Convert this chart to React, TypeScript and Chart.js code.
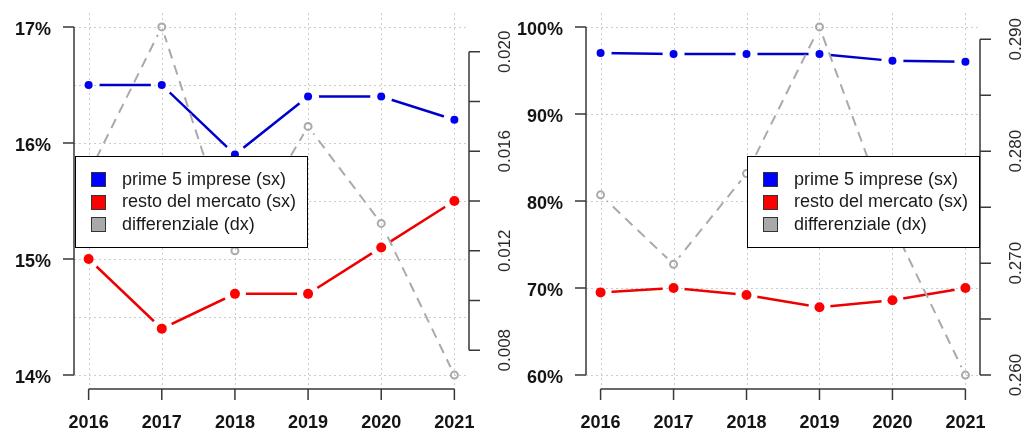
import React, { useEffect, useRef } from 'react';
import { Chart, registerables } from 'chart.js';

Chart.register(...registerables);

// ---- data ----
const years = [2016, 2017, 2018, 2019, 2020, 2021];

// left panel
const top5A = [16.5, 16.5, 15.9, 16.4, 16.4, 16.2];
const restA = [15.0, 14.4, 14.7, 14.7, 15.1, 15.5];
const diffA = [0.0151, 0.021, 0.012, 0.017, 0.0131, 0.007];
const leftTicksA = [14, 15, 16, 17];
const leftGridA = [14, 14.5, 15, 15.5, 16, 16.5, 17];
const rightTicksA = [0.008, 0.01, 0.012, 0.014, 0.016, 0.018, 0.02];
const rightLabelsA = ['0.008', '', '0.012', '', '0.016', '', '0.020'];

// right panel
const top5B = [97.0, 96.9, 96.9, 96.9, 96.1, 96.0];
const restB = [69.5, 70.0, 69.2, 67.8, 68.6, 70.0];
const diffB = [0.2761, 0.2699, 0.278, 0.2911, 0.2734, 0.26];
const leftTicksB = [60, 70, 80, 90, 100];
const leftGridB = [60, 70, 80, 90, 100];
const rightTicksB = [0.26, 0.265, 0.27, 0.275, 0.28, 0.285, 0.29];
const rightLabelsB = ['0.260', '', '0.270', '', '0.280', '', '0.290'];

const legendLabels = ['prime 5 imprese (sx)', 'resto del mercato (sx)', 'differenziale (dx)'];
const legendColors = ['#0000ff', '#ff0000', '#a9a9a9'];

const FONT = '"Liberation Sans", Arial, Helvetica, sans-serif';

// extend a range by 4% on each side
function padRange(lo: number, hi: number): [number, number] {
  const d = (hi - lo) * 0.04;
  return [lo - d, hi + d];
}

// grid, axes, legend box, and lines that stop short of their points
const framePlugin = {
  id: 'frame',
  beforeDatasetDraw(chart: any, args: any) {
    const ds: any = chart.data.datasets[args.index];
    if (!ds || !ds.gap) return;
    const ctx = chart.ctx;
    ctx.save();
    ctx.beginPath();
    ctx.rect(0, 0, chart.width, chart.height);
    for (const el of args.meta.data) {
      ctx.moveTo(el.x + ds.gap, el.y);
      ctx.arc(el.x, el.y, ds.gap, 0, Math.PI * 2, true);
    }
    ctx.clip('evenodd');
  },
  afterDatasetDraw(chart: any, args: any) {
    const ds: any = chart.data.datasets[args.index];
    if (!ds || !ds.gap) return;
    chart.ctx.restore();
  },
  beforeDatasetsDraw(chart: any, _args: any, opts: any) {
    const { ctx, chartArea: a, scales } = chart;
    ctx.save();
    ctx.strokeStyle = '#cccccc';
    ctx.lineWidth = 1;
    ctx.setLineDash([2, 3]);
    for (const v of opts.leftGrid) {
      const py = Math.round(scales.y.getPixelForValue(v)) + 0.5;
      ctx.beginPath();
      ctx.moveTo(a.left, py);
      ctx.lineTo(a.right, py);
      ctx.stroke();
    }
    for (const v of years) {
      const px = Math.round(scales.x.getPixelForValue(v)) + 0.5;
      ctx.beginPath();
      ctx.moveTo(px, a.top);
      ctx.lineTo(px, a.bottom);
      ctx.stroke();
    }
    ctx.setLineDash([]);
    ctx.restore();
  },
  afterDraw(chart: any, _args: any, opts: any) {
    const { ctx, chartArea: a, scales } = chart;
    const tick = 11;
    ctx.save();
    ctx.setLineDash([]);
    ctx.strokeStyle = '#383838';
    ctx.lineWidth = 1.5;
    ctx.fillStyle = '#141414';

    // x axis
    const xs = years.map((v) => scales.x.getPixelForValue(v));
    const yb = a.bottom;
    ctx.beginPath();
    ctx.moveTo(xs[0], yb);
    ctx.lineTo(xs[xs.length - 1], yb);
    for (const px of xs) {
      ctx.moveTo(px, yb);
      ctx.lineTo(px, yb + tick);
    }
    ctx.stroke();
    ctx.font = `bold 18px ${FONT}`;
    ctx.textAlign = 'center';
    ctx.textBaseline = 'alphabetic';
    years.forEach((v, i) => ctx.fillText(String(v), xs[i], yb + 39));

    // left axis
    const ly = opts.leftTicks.map((v: number) => scales.y.getPixelForValue(v));
    ctx.beginPath();
    ctx.moveTo(a.left, ly[0]);
    ctx.lineTo(a.left, ly[ly.length - 1]);
    for (const py of ly) {
      ctx.moveTo(a.left, py);
      ctx.lineTo(a.left - tick, py);
    }
    ctx.stroke();
    ctx.textAlign = 'right';
    opts.leftTicks.forEach((v: number, i: number) => ctx.fillText(`${v}%`, a.left - 23, ly[i] + 8));

    // right axis
    const ry = opts.rightTicks.map((v: number) => scales.y2.getPixelForValue(v));
    ctx.beginPath();
    ctx.moveTo(a.right, ry[0]);
    ctx.lineTo(a.right, ry[ry.length - 1]);
    for (const py of ry) {
      ctx.moveTo(a.right, py);
      ctx.lineTo(a.right + tick, py);
    }
    ctx.stroke();
    ctx.font = `17px ${FONT}`;
    ctx.fillStyle = '#2a2a2a';
    ctx.textAlign = 'center';
    opts.rightLabels.forEach((t: string, i: number) => {
      if (!t) return;
      ctx.save();
      ctx.translate(a.right + 41, ry[i]);
      ctx.rotate(-Math.PI / 2);
      ctx.fillText(t, 0, 0);
      ctx.restore();
    });

    // legend box
    const w = 232;
    const h = 91;
    const lx = opts.legendSide === 'left' ? a.left + 1 : a.right - 1 - w;
    const ty = Math.round((a.top + a.bottom) / 2 - h / 2);
    ctx.fillStyle = '#ffffff';
    ctx.fillRect(lx, ty, w, h);
    ctx.lineWidth = 1;
    ctx.strokeStyle = '#000000';
    ctx.strokeRect(lx + 0.5, ty + 0.5, w, h);
    ctx.font = `18px ${FONT}`;
    ctx.textAlign = 'left';
    ctx.textBaseline = 'middle';
    legendLabels.forEach((t, i) => {
      const cy = ty + 23 + i * 22.5;
      ctx.fillStyle = legendColors[i];
      ctx.fillRect(lx + 16, Math.round(cy - 7), 14, 14);
      ctx.strokeStyle = '#333333';
      ctx.strokeRect(lx + 16.5, Math.round(cy - 7) + 0.5, 14, 14);
      ctx.fillStyle = '#1a1a1a';
      ctx.fillText(t, lx + 47, cy + 1);
    });
    ctx.restore();
  },
};

type PanelCfg = {
  top5: number[];
  rest: number[];
  diff: number[];
  leftTicks: number[];
  leftGrid: number[];
  rightTicks: number[];
  rightLabels: string[];
  legendSide: 'left' | 'right';
};

function pts(values: number[]) {
  return values.map((v, i) => ({ x: years[i], y: v }));
}

function Panel({ cfg, left, width }: { cfg: PanelCfg; left: number; width: number }) {
  const ref = useRef<HTMLCanvasElement | null>(null);
  useEffect(() => {
    if (!ref.current) return;
    const [xMin, xMax] = padRange(years[0], years[years.length - 1]);
    const [yMin, yMax] = padRange(cfg.leftTicks[0], cfg.leftTicks[cfg.leftTicks.length - 1]);
    const [y2Min, y2Max] = padRange(Math.min(...cfg.diff), Math.max(...cfg.diff));
    const grey = '#aaaaaa';
    const chart = new Chart(ref.current, {
      type: 'line',
      data: {
        datasets: [
          {
            data: pts(cfg.diff), yAxisID: 'y2', showLine: false,
            pointRadius: 3.5, pointBorderWidth: 2, pointBorderColor: grey,
            pointBackgroundColor: 'rgba(0,0,0,0)', borderColor: grey,
          },
          {
            data: pts(cfg.diff), yAxisID: 'y2', pointRadius: 0,
            borderColor: grey, borderWidth: 2, borderDash: [10, 7], gap: 9,
          } as any,
          {
            data: pts(cfg.rest), yAxisID: 'y', showLine: false,
            pointRadius: 5, pointBorderWidth: 0, pointBackgroundColor: '#ff0000',
          },
          {
            data: pts(cfg.rest), yAxisID: 'y', pointRadius: 0,
            borderColor: '#ee0000', borderWidth: 2.5, gap: 11,
          } as any,
          {
            data: pts(cfg.top5), yAxisID: 'y', showLine: false,
            pointRadius: 4, pointBorderWidth: 0, pointBackgroundColor: '#0000ee',
          },
          {
            data: pts(cfg.top5), yAxisID: 'y', pointRadius: 0,
            borderColor: '#0000cc', borderWidth: 2.5, gap: 11,
          } as any,
        ],
      },
      options: {
        animation: false,
        responsive: false,
        devicePixelRatio: 1,
        events: [],
        layout: { padding: { left: 74, right: width - (width === 512 ? 469 : 468), top: 13, bottom: 41 } },
        scales: {
          x: { type: 'linear', display: false, min: xMin, max: xMax },
          y: { type: 'linear', display: false, position: 'left', min: yMin, max: yMax },
          y2: { type: 'linear', display: false, position: 'right', min: y2Min, max: y2Max },
        },
        plugins: {
          legend: { display: false },
          tooltip: { enabled: false },
          frame: {
            leftTicks: cfg.leftTicks,
            leftGrid: cfg.leftGrid,
            rightTicks: cfg.rightTicks,
            rightLabels: cfg.rightLabels,
            legendSide: cfg.legendSide,
          },
        } as any,
      },
      plugins: [framePlugin],
    });
    return () => chart.destroy();
  }, [cfg, width]);
  return (
    <canvas
      ref={ref}
      width={width}
      height={430}
      style={{ position: 'absolute', left, top: 0, width, height: 430 }}
    />
  );
}

const panelA: PanelCfg = {
  top5: top5A, rest: restA, diff: diffA,
  leftTicks: leftTicksA, leftGrid: leftGridA,
  rightTicks: rightTicksA, rightLabels: rightLabelsA, legendSide: 'left',
};

const panelB: PanelCfg = {
  top5: top5B, rest: restB, diff: diffB,
  leftTicks: leftTicksB, leftGrid: leftGridB,
  rightTicks: rightTicksB, rightLabels: rightLabelsB, legendSide: 'right',
};

export default function App() {
  return (
    <div style={{ position: 'absolute', left: 0, top: 0, width: 1023, height: 430, background: '#ffffff' }}>
      <Panel cfg={panelA} left={0} width={512} />
      <Panel cfg={panelB} left={512} width={511} />
    </div>
  );
}
